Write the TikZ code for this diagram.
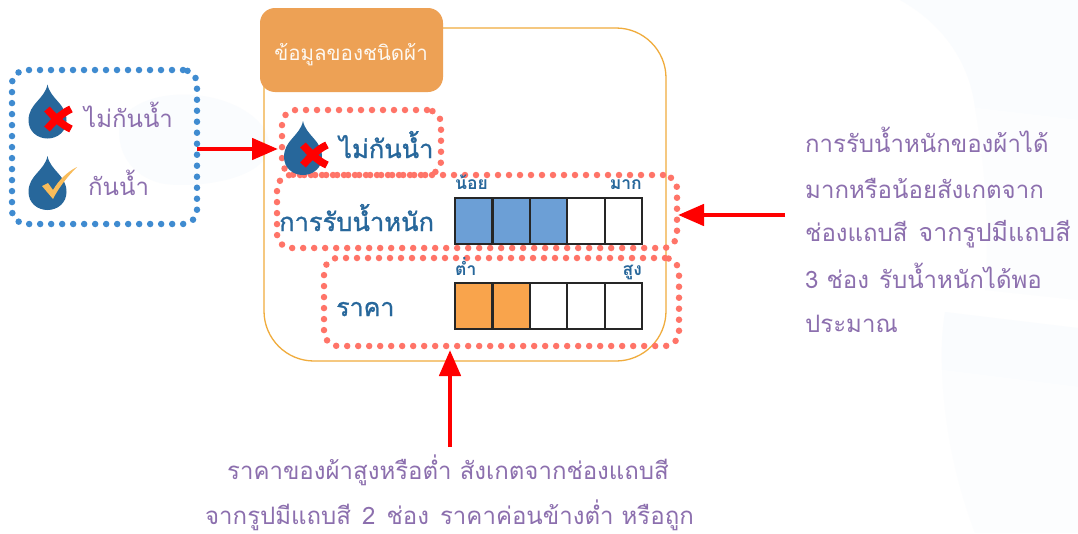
\documentclass[tikz,border=0pt]{standalone}
\usepackage{fontspec}
\setmainfont[Script=Thai]{Loma}
\newfontfamily\thaimid[Script=Thai,FakeBold=1.2]{Loma}
\usetikzlibrary{arrows.meta}
\definecolor{txtpurple}{HTML}{8C6FAE}
\definecolor{dropblue}{HTML}{27679B}
\definecolor{hdr}{HTML}{EDA155}
\definecolor{outer}{HTML}{F0AC3C}
\definecolor{dotblue}{HTML}{3F8BD0}
\definecolor{dotred}{HTML}{FF7468}
\definecolor{cellblue}{HTML}{6C9FD6}
\definecolor{cellorange}{HTML}{F9A44C}
\definecolor{ticky}{HTML}{F9BC5A}
\definecolor{faint}{HTML}{FAFCFE}
\definecolor{fainter}{HTML}{FCFDFE}
\tikzset{
 x=1pt,y=-1pt,
 dotbox/.style={line width=6.5pt,line cap=round,dash pattern=on 0pt off 11pt,rounded corners=14pt},
 redarrow/.style={draw=red,line width=4.7pt,-{Triangle[length=26pt,width=21pt,fill=red]}},
 note/.style={text=txtpurple,font=\fontsize{24}{24}\selectfont,inner sep=0pt},
 labelblue/.style={text=dropblue,inner sep=0pt},
 cell/.style={draw=black!85,line width=2.2pt,minimum width=37.6pt,minimum height=46pt,inner sep=0pt,anchor=north west},
 pics/drop/.style={code={
  \fill[dropblue] (0,-27) .. controls (3,-12) and (19,-8) .. (19,9) .. controls (19,20) and (10,27) .. (0,27) .. controls (-10,27) and (-19,20) .. (-19,9) .. controls (-19,-8) and (-3,-12) .. (0,-27) -- cycle;}},
 pics/crossmark/.style={code={
  \draw[red,line width=7.5pt] (-12,-10) .. controls (-5,-2) and (3,6) .. (12,10);
  \draw[red,line width=7.5pt] (12,-10) .. controls (3,-6) and (-5,2) .. (-12,10);}},
 pics/tickmark/.style={code={
  \fill[ticky] (-16,3) -- (-10,0) -- (-5,7) .. controls (1,-3) and (9,-11) .. (19,-16) .. controls (10,-7) and (1,4) .. (-5,16) -- cycle;}},
}
\begin{document}
\begin{tikzpicture}
\useasboundingbox (0,0) rectangle (1078,533);
\fill[white] (0,0) rectangle (1078,533);
% faint background shapes
\fill[faint] (120,120) .. controls (150,80) and (240,90) .. (265,130) .. controls (290,180) and (190,190) .. (160,183) .. controls (130,175) and (115,150) .. (120,120) -- cycle;
\fill[faint] (900,0) .. controls (945,25) and (970,65) .. (975,108) -- (1078,120) -- (1078,0) -- cycle;
\fill[fainter] (975,108) -- (1078,120) -- (1078,300) -- (985,290) .. controls (990,230) and (985,165) .. (975,108) -- cycle;
\fill[faint] (945,312) -- (1078,328) -- (1078,387) -- (942,370) .. controls (941,350) and (942,330) .. (945,312) -- cycle;
\fill[fainter] (942,370) -- (1078,387) -- (1078,533) -- (975,533) .. controls (955,480) and (944,425) .. (942,370) -- cycle;
% outer frame and header
\node[draw=outer,line width=1.3pt,rounded corners=50pt,minimum width=402pt,minimum height=333pt,inner sep=0pt] (frame) at (465,194.5) {};
\node[fill=hdr,rounded corners=15pt,minimum width=183pt,minimum height=84pt,inner sep=0pt] (header) at (351.5,50) {};
\node[text=white!92!hdr,font=\fontsize{20.5}{20.5}\selectfont,inner sep=0pt,anchor=base] (headertext) at (351,60) {ข้อมูลของชนิดผ้า};
% legend
\node[draw=dotblue,dotbox,minimum width=185pt,minimum height=154pt,inner sep=0pt] (legend) at (104.5,147) {};
\pic at (47.5,111.5) {drop};
\pic at (59,119) {crossmark};
\node[note,anchor=base west] (l1) at (84,127) {ไม่กันน้ำ};
\pic at (47.5,183) {drop};
\pic at (58,183) {tickmark};
\node[note,anchor=base west] (l2) at (88,195) {กันน้ำ};
% sample rows
\node[draw=dotred,dotbox,minimum width=159pt,minimum height=65pt,inner sep=0pt] (rowa) at (361.5,142.5) {};
\node[draw=dotred,dotbox,minimum width=400pt,minimum height=73pt,inner sep=0pt] (rowb) at (477,211.5) {};
\node[draw=dotred,dotbox,minimum width=355pt,minimum height=88pt,inner sep=0pt] (rowc) at (501.5,302) {};
\pic at (303,148) {drop};
\pic at (315,155) {crossmark};
\node[labelblue,anchor=base west,font=\thaimid\fontsize{25.5}{25.5}\selectfont] (ta) at (339,158) {ไม่กันน้ำ};
\node[labelblue,anchor=base west,font=\thaimid\fontsize{25.5}{25.5}\selectfont] (tb) at (279,231) {การรับน้ำหนัก};
\node[labelblue,anchor=base west,font=\thaimid\fontsize{25}{25}\selectfont] (tc) at (336,316) {ราคา};
\node[labelblue,anchor=base west,font=\bfseries\fontsize{17.5}{17.5}\selectfont] (na) at (455,189) {น้อย};
\node[labelblue,anchor=base east,font=\bfseries\fontsize{17.5}{17.5}\selectfont] (nb) at (642,189) {มาก};
\node[labelblue,anchor=base west,font=\bfseries\fontsize{17.5}{17.5}\selectfont] (nc) at (455,275) {ต่ำ};
\node[labelblue,anchor=base east,font=\bfseries\fontsize{17.5}{17.5}\selectfont] (nd) at (642,275) {สูง};
% bars
\foreach \i/\c in {0/cellblue,1/cellblue,2/cellblue,3/white,4/white}
  \node[cell,fill=\c] (b\i) at ({454+\i*37.4},196.5) {};
\foreach \i/\c in {0/cellorange,1/cellorange,2/white,3/white,4/white}
  \node[cell,fill=\c] (o\i) at ({454+\i*37.4},281.5) {};
% notes
\node[note,anchor=base west] (n1) at (805,152) {การรับน้ำหนักของผ้าได้};
\node[note,anchor=base west] (n2) at (805,198) {มากหรือน้อยสังเกตจาก};
\node[note,anchor=base west] (n3) at (805,241) {ช่องแถบสี\hspace{3pt} {\fontsize{25}{25}\selectfont จากรูปมีแถบสี}};
\node[note,anchor=base west] (n4) at (805,288) {3 ช่อง\hspace{2pt} รับน้ำหนักได้พอ};
\node[note,anchor=base west] (n5) at (805,332) {ประมาณ};
\node[note,anchor=base] (n6) at (448,479) {ราคาของผ้าสูงหรือต่ำ สังเกตจากช่องแถบสี};
\node[note,anchor=base] (n7) at (449.5,524) {จากรูปมีแถบสี\hspace{3pt} 2\hspace{3pt} ช่อง\hspace{3pt} ราคาค่อนข้างต่ำ หรือถูก};
% arrows
\coordinate (a1s) at (197,149);
\coordinate (a1e) at (278,149);
\coordinate (a2s) at (785,215);
\coordinate (a2e) at (678,215);
\coordinate (a3s) at (450,447);
\coordinate (a3e) at (450,350);
\draw[redarrow] (a1s) -- (a1e);
\draw[redarrow] (a2s) -- (a2e);
\draw[redarrow] (a3s) -- (a3e);
\end{tikzpicture}
\end{document}
